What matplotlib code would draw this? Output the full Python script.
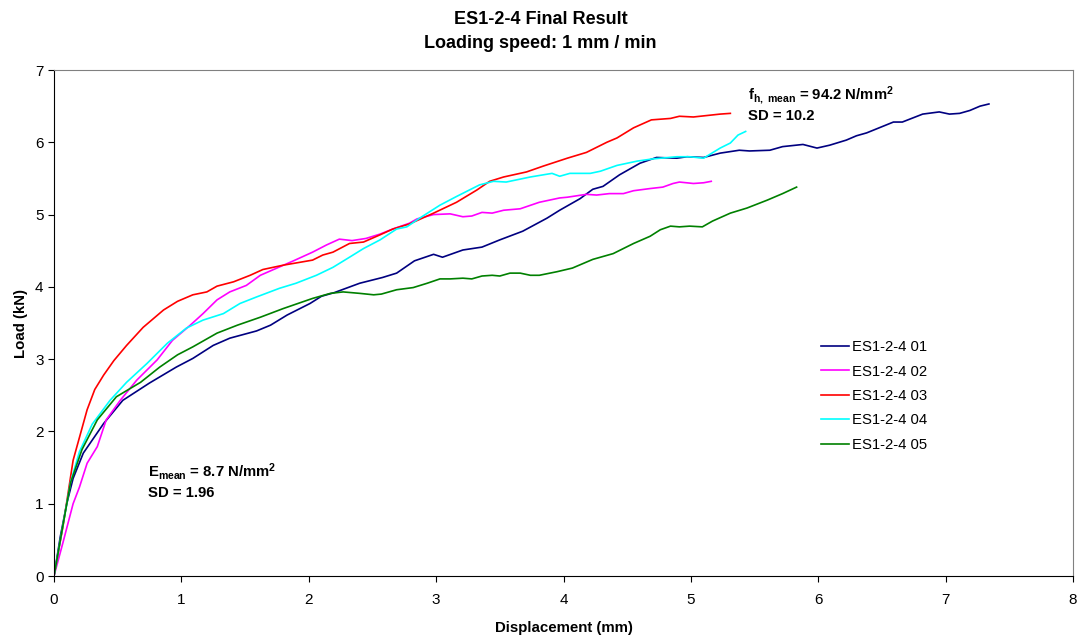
import matplotlib
matplotlib.use("Agg")
import matplotlib.pyplot as plt

plt.rcParams["font.family"] = ["Liberation Sans", "DejaVu Sans"]
plt.rcParams["mathtext.fontset"] = "custom"
plt.rcParams["mathtext.rm"] = "Liberation Sans:bold"
plt.rcParams["mathtext.it"] = "Liberation Sans:bold"
plt.rcParams["mathtext.bf"] = "Liberation Sans:bold"

# ES1-2-4 01
x01 = [0, 0.05, 0.1, 0.15, 0.23, 0.39, 0.54, 0.75, 0.96, 1.09, 1.25, 1.38, 1.59, 1.70, 1.83, 2.01,
       2.10, 2.20, 2.40, 2.58, 2.69, 2.83, 2.98, 3.05, 3.21, 3.36, 3.50, 3.68, 3.87, 3.97, 4.13, 4.23,
       4.31, 4.44, 4.60, 4.73, 4.89, 4.97, 5.10, 5.23, 5.38, 5.46, 5.62, 5.72, 5.88, 5.99, 6.09, 6.22,
       6.30, 6.38, 6.59, 6.66, 6.82, 6.95, 7.03, 7.11, 7.19, 7.27, 7.34]
y01 = [0, 0.55, 1.0, 1.35, 1.70, 2.11, 2.43, 2.67, 2.89, 3.01, 3.19, 3.29, 3.39, 3.47, 3.61, 3.77,
       3.87, 3.92, 4.05, 4.13, 4.19, 4.36, 4.45, 4.41, 4.51, 4.55, 4.65, 4.77, 4.95, 5.06, 5.22, 5.35,
       5.39, 5.55, 5.71, 5.79, 5.78, 5.80, 5.79, 5.85, 5.89, 5.88, 5.89, 5.94, 5.97, 5.92, 5.96, 6.03,
       6.09, 6.13, 6.28, 6.28, 6.39, 6.42, 6.39, 6.40, 6.44, 6.50, 6.53]

# ES1-2-4 02
x02 = [0, 0.07, 0.15, 0.20, 0.26, 0.34, 0.41, 0.52, 0.65, 0.81, 0.93, 1.07, 1.17, 1.28, 1.38, 1.51,
       1.62, 1.75, 1.88, 2.03, 2.14, 2.24, 2.34, 2.45, 2.56, 2.66, 2.79, 2.85, 2.98, 3.11, 3.21, 3.28,
       3.36, 3.44, 3.53, 3.66, 3.81, 3.97, 4.03, 4.18, 4.26, 4.36, 4.47, 4.55, 4.68, 4.78, 4.86, 4.91,
       5.02, 5.10, 5.16]
y02 = [0, 0.46, 1.0, 1.23, 1.56, 1.79, 2.16, 2.43, 2.71, 2.99, 3.26, 3.47, 3.63, 3.82, 3.93, 4.02,
       4.16, 4.26, 4.36, 4.48, 4.58, 4.66, 4.64, 4.67, 4.73, 4.80, 4.88, 4.94, 5.00, 5.01, 4.97, 4.98,
       5.03, 5.02, 5.06, 5.08, 5.17, 5.23, 5.24, 5.28, 5.27, 5.29, 5.29, 5.33, 5.36, 5.38, 5.43, 5.45,
       5.43, 5.44, 5.46]

# ES1-2-4 03
x03 = [0, 0.07, 0.15, 0.26, 0.32, 0.39, 0.47, 0.57, 0.70, 0.86, 0.97, 1.09, 1.20, 1.28, 1.41, 1.54,
       1.64, 1.80, 2.03, 2.11, 2.19, 2.32, 2.43, 2.56, 2.66, 2.79, 2.98, 3.16, 3.32, 3.42, 3.53, 3.71,
       3.84, 4.03, 4.18, 4.34, 4.42, 4.55, 4.69, 4.84, 4.91, 5.02, 5.23, 5.31]
y03 = [0, 0.68, 1.6, 2.3, 2.58, 2.78, 2.98, 3.19, 3.44, 3.68, 3.80, 3.89, 3.93, 4.01, 4.07, 4.16,
       4.24, 4.30, 4.37, 4.44, 4.48, 4.60, 4.62, 4.72, 4.80, 4.87, 5.02, 5.17, 5.34, 5.46, 5.52, 5.59,
       5.67, 5.78, 5.86, 6.00, 6.06, 6.20, 6.31, 6.33, 6.36, 6.35, 6.39, 6.40]

# ES1-2-4 04
x04 = [0, 0.07, 0.13, 0.20, 0.30, 0.44, 0.57, 0.73, 0.89, 1.04, 1.17, 1.33, 1.46, 1.59, 1.77, 1.90,
       2.06, 2.19, 2.32, 2.43, 2.56, 2.69, 2.77, 2.87, 3.03, 3.16, 3.34, 3.45, 3.55, 3.74, 3.91, 3.97,
       4.05, 4.21, 4.29, 4.42, 4.58, 4.70, 4.89, 4.99, 5.10, 5.23, 5.31, 5.37, 5.43]
y04 = [0, 0.7, 1.3, 1.72, 2.1, 2.43, 2.68, 2.94, 3.22, 3.43, 3.54, 3.63, 3.77, 3.86, 3.98, 4.05,
       4.16, 4.27, 4.41, 4.53, 4.65, 4.80, 4.83, 4.95, 5.13, 5.25, 5.41, 5.46, 5.45, 5.52, 5.57, 5.53,
       5.57, 5.57, 5.60, 5.68, 5.74, 5.77, 5.80, 5.80, 5.78, 5.92, 5.99, 6.10, 6.15]

# ES1-2-4 05
x05 = [0, 0.06, 0.13, 0.22, 0.34, 0.49, 0.68, 0.83, 0.97, 1.09, 1.28, 1.44, 1.62, 1.80, 2.03, 2.17,
       2.27, 2.40, 2.51, 2.57, 2.69, 2.82, 2.93, 3.03, 3.11, 3.21, 3.28, 3.36, 3.44, 3.50, 3.58, 3.66,
       3.74, 3.81, 3.95, 4.07, 4.23, 4.39, 4.55, 4.68, 4.76, 4.84, 4.91, 4.99, 5.09, 5.17, 5.31, 5.44,
       5.60, 5.72, 5.83]
y05 = [0, 0.6, 1.29, 1.75, 2.16, 2.48, 2.68, 2.89, 3.06, 3.17, 3.36, 3.47, 3.58, 3.70, 3.84, 3.91,
       3.93, 3.91, 3.89, 3.90, 3.96, 3.99, 4.05, 4.11, 4.11, 4.12, 4.11, 4.15, 4.16, 4.15, 4.19, 4.19,
       4.16, 4.16, 4.21, 4.26, 4.38, 4.46, 4.60, 4.70, 4.79, 4.84, 4.83, 4.84, 4.83, 4.91, 5.02, 5.09,
       5.20, 5.29, 5.38]

labels = ["ES1-2-4 01", "ES1-2-4 02", "ES1-2-4 03", "ES1-2-4 04", "ES1-2-4 05"]
colors = ["#000080", "#FF00FF", "#FF0000", "#00FFFF", "#008000"]
series = [(x01, y01), (x02, y02), (x03, y03), (x04, y04), (x05, y05)]

fig = plt.figure(figsize=(10.81, 6.44), dpi=100)
ax = fig.add_axes([54 / 1081, 68 / 644, (1073 - 54) / 1081, (576 - 70) / 644])

for (xs, ys), lab, col in zip(series, labels, colors):
    ax.plot(xs, ys, color=col, linewidth=1.2, label=lab)

ax.set_xlim(0, 8)
ax.set_ylim(0, 7)
ax.set_xticks(range(0, 9))
ax.set_yticks(range(0, 8))
ax.tick_params(direction="out", length=4, width=0.8, labelsize=11, colors="black")
ax.tick_params(axis="x", pad=8)

for side in ["top", "right"]:
    ax.spines[side].set_color("#808080")
for side in ["left", "bottom"]:
    ax.spines[side].set_color("black")

ax.set_xlabel("Displacement (mm)", fontsize=10.8, fontweight="bold", labelpad=10)
ax.set_ylabel("Load (kN)", fontsize=10.8, fontweight="bold", labelpad=5)

fig.text(0.5, 0.970, "ES1-2-4 Final Result", ha="center", va="center",
         fontsize=13, fontweight="bold")
fig.text(0.5, 0.933, "Loading speed: 1 mm / min", ha="center", va="center",
         fontsize=13, fontweight="bold")

ax.text(5.45, 6.66, r"f$_{\mathrm{h,\ mean}}$ = 94.2 N/mm$^{\mathrm{2}}$", fontsize=10.75,
        fontweight="bold", va="center")
ax.text(5.45, 6.36, "SD = 10.2", fontsize=10.75, fontweight="bold", va="center")

ax.text(0.74, 1.45, r"E$_{\mathrm{mean}}$ = 8.7 N/mm$^{\mathrm{2}}$", fontsize=10.75,
        fontweight="bold", va="center")
ax.text(0.74, 1.15, "SD = 1.96", fontsize=10.75, fontweight="bold", va="center")

leg = ax.legend(loc="upper left", bbox_to_anchor=(0.7527, 0.466), frameon=False,
                fontsize=10.7, handlelength=1.9, handletextpad=0.2, labelspacing=0.7,
                borderpad=0, borderaxespad=0)

fig.savefig("out.png", dpi=100)
